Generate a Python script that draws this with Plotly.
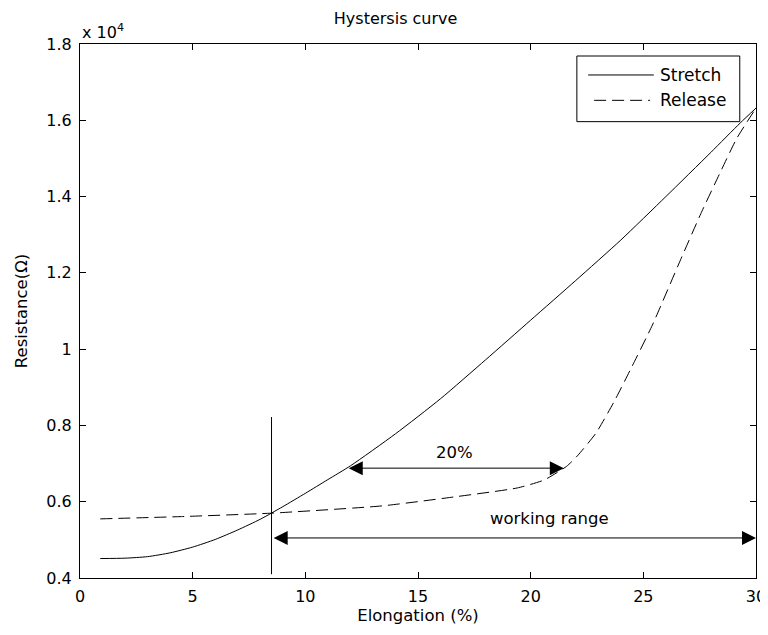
import plotly.graph_objects as go

# Data (resistance in units of 10^4 ohm)
stretch_x = [0.9, 2, 3, 4, 5, 6, 7, 8, 9, 10, 11, 12, 14, 16, 18, 20, 22, 24, 26, 28, 29.3, 30.0]
stretch_y = [0.451, 0.452, 0.456, 0.466, 0.481, 0.501, 0.526, 0.554, 0.587, 0.622, 0.658, 0.694, 0.778, 0.870, 0.972, 1.076, 1.180, 1.286, 1.400, 1.516, 1.593, 1.632]

release_x = [0.9, 4.5, 8.5, 13.4, 16.4, 19.4, 20.6, 21.6, 22.1, 22.9, 23.7, 24.5, 25.4, 26.65, 27.55, 28.45, 29.15, 30.0]
release_y = [0.555, 0.561, 0.570, 0.589, 0.611, 0.636, 0.657, 0.693, 0.722, 0.780, 0.862, 0.955, 1.063, 1.234, 1.355, 1.468, 1.553, 1.632]

series_names = ["Stretch", "Release"]

marker_x = 8.5
marker_y_range = [0.41, 0.822]
gap_arrow = {"x0": 11.86, "x1": 21.47, "y": 0.688, "label": "20%", "lx": 16.6, "ly": 0.729}
range_arrow = {"x0": 8.53, "x1": 30.0, "y": 0.505, "label": "working range", "lx": 20.85, "ly": 0.556}

x_ticks = [0, 5, 10, 15, 20, 25, 30]
y_ticks = [0.4, 0.6, 0.8, 1.0, 1.2, 1.4, 1.6, 1.8]
y_tick_labels = ["0.4", "0.6", "0.8", "1", "1.2", "1.4", "1.6", "1.8"]

FONT = "DejaVu Sans, Arial, sans-serif"
DASH = "12px,6px"

# page body has an 8px margin; the figure is sized so the page matches 768x635
W, H = 760, 627

fig = go.Figure()
fig.add_trace(go.Scatter(x=stretch_x, y=stretch_y, mode="lines", name=series_names[0], showlegend=False,
                         line=dict(color="black", width=1, shape="spline", smoothing=0.6)))
fig.add_trace(go.Scatter(x=release_x, y=release_y, mode="lines", name=series_names[1], showlegend=False,
                         line=dict(color="black", width=1, dash=DASH, shape="spline", smoothing=0.5)))
fig.add_trace(go.Scatter(x=[marker_x, marker_x], y=marker_y_range, mode="lines", showlegend=False,
                         line=dict(color="black", width=1)))

for a in (gap_arrow, range_arrow):
    fig.add_annotation(x=a["x1"], y=a["y"], ax=a["x0"], ay=a["y"], xref="x", yref="y",
                       axref="x", ayref="y", text="", showarrow=True, arrowhead=2,
                       arrowside="end+start", arrowsize=2.8, arrowwidth=1, arrowcolor="black")
    fig.add_annotation(x=a["lx"], y=a["ly"], xref="x", yref="y", text=a["label"],
                       showarrow=False, font=dict(size=16.5, color="black", family=FONT))

# exponent label
fig.add_annotation(x=0, y=1.0, xref="paper", yref="paper", xanchor="left", yanchor="bottom",
                   text="x 10<sup>4</sup>", showarrow=False, yshift=0,
                   font=dict(size=16, color="black", family=FONT))

# MATLAB-style legend box
fig.add_shape(type="rect", xref="paper", yref="paper", x0=0.735, x1=0.976, y0=0.8546, y1=0.9775,
              line=dict(color="black", width=1), fillcolor="white", layer="above")
legend_rows = [(0.942, None, 0.7517, 0.8489), (0.8945, DASH, 0.7605, 0.8433)]
for name, (ly, dash, lx0, lx1) in zip(series_names, legend_rows):
    fig.add_shape(type="line", xref="paper", yref="paper", x0=lx0, x1=lx1, y0=ly, y1=ly,
                  line=dict(color="black", width=1, dash=dash), layer="above")
    fig.add_annotation(x=0.8552, y=ly, xref="paper", yref="paper", xanchor="left", yanchor="middle",
                       text=name, showarrow=False, font=dict(size=17, color="black", family=FONT))

axis_common = dict(showgrid=False, zeroline=False, showline=True, linecolor="black", linewidth=1,
                   mirror="ticks", ticks="inside", ticklen=6, tickcolor="black", automargin=False,
                   tickfont=dict(size=16, color="black", family=FONT))

fig.update_layout(
    width=W, height=H,
    margin=dict(l=72, r=12, t=36, b=57),
    paper_bgcolor="white", plot_bgcolor="white",
    title=dict(text="Hystersis curve", x=0.51, xref="container", xanchor="center",
               y=1 - 10 / H, yref="container", yanchor="middle",
               font=dict(size=16, color="black", family=FONT)),
    xaxis=dict(range=[0, 30], tickvals=x_ticks, ticklabelstandoff=4,
               title=dict(text="Elongation (%)", standoff=2, font=dict(size=16.5, color="black", family=FONT)),
               **axis_common),
    yaxis=dict(range=[0.4, 1.8], tickvals=y_ticks, ticktext=y_tick_labels, ticklabelstandoff=4,
               title=dict(text="Resistance(Ω)", standoff=14, font=dict(size=16.5, color="black", family=FONT)),
               **axis_common),
    showlegend=False,
)

fig.write_html("out.html")
